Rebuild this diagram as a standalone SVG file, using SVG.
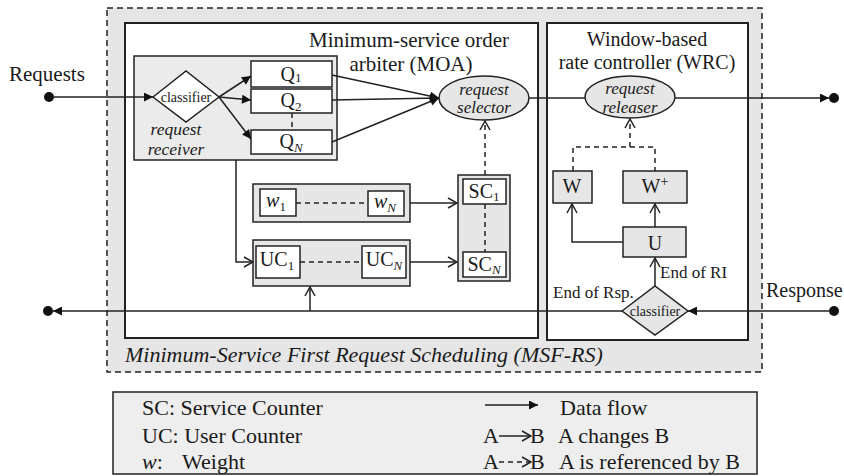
<svg xmlns="http://www.w3.org/2000/svg" width="844" height="476" viewBox="0 0 844 476">
<style>
  text { font-family: "Liberation Serif", "Times New Roman", serif; fill: #1a1a1a; }
  .f21 { font-size: 21px; }
  .f22 { font-size: 22px; }
  .f20 { font-size: 20px; }
  .f17 { font-size: 17px; }
  .f14 { font-size: 14px; }
  .it { font-style: italic; }
  .mid { text-anchor: middle; }
  .ln { stroke: #222; stroke-width: 1.5; fill: none; }
  .dash { stroke: #222; stroke-width: 1.5; fill: none; stroke-dasharray: 5,4; }
  .wbox { fill: #fff; stroke: #222; stroke-width: 1.5; }
  .gbox { fill: #e6e6e6; stroke: #222; stroke-width: 1.5; }
  .sub { font-size: 13px; }
</style>
<defs>
  <marker id="af" viewBox="0 0 10 10" refX="10" refY="5" markerWidth="10" markerHeight="9" orient="auto" markerUnits="userSpaceOnUse">
    <path d="M0,0 L10,5 L0,10 z" fill="#111"/>
  </marker>
  <marker id="ao" viewBox="0 0 12 12" refX="11" refY="6" markerWidth="12" markerHeight="12" orient="auto" markerUnits="userSpaceOnUse">
    <path d="M2,1 L11,6 L2,11" fill="none" stroke="#222" stroke-width="1.5"/>
  </marker>
</defs>

<!-- frames -->
<g id="msf-rs">
  <rect x="107" y="8" width="655" height="364" fill="#e6e6e6" stroke="#222" stroke-width="1.5" stroke-dasharray="6,4"/>
  <text x="125" y="362" class="f22 it">Minimum-Service First Request Scheduling (MSF-RS)</text>
</g>
<g id="moa">
  <rect x="125" y="23" width="413" height="315" fill="#fff" stroke="#222" stroke-width="2"/>
  <text x="409" y="47" class="f21 mid">Minimum-service order</text>
  <text x="411" y="71" class="f21 mid">arbiter (MOA)</text>
</g>
<g id="wrc">
  <rect x="547" y="23" width="201" height="317" fill="#fff" stroke="#222" stroke-width="2"/>
  <text x="647" y="46" class="f20 mid">Window-based</text>
  <text x="647" y="69" class="f20 mid">rate controller (WRC)</text>
</g>

<!-- external labels -->
<g id="requests">
  <circle cx="49" cy="97" r="5" fill="#111"/>
  <text x="9" y="81" class="f21">Requests</text>
</g>
<g id="response">
  <circle cx="834" cy="311" r="5" fill="#111"/>
  <text x="766" y="297" class="f20">Response</text>
</g>
<g id="out-right">
  <circle cx="834" cy="98" r="5" fill="#111"/>
</g>
<g id="out-left">
  <circle cx="48" cy="311" r="5" fill="#111"/>
</g>

<!-- request receiver -->
<g id="request-receiver">
  <rect x="134" y="56" width="203" height="104" fill="#ebebeb" stroke="#222" stroke-width="1.5"/>
  <text x="176" y="135" class="it mid" style="font-size:17.5px">request</text>
  <text x="176" y="155" class="it mid" style="font-size:17.5px">receiver</text>
</g>
<g id="classifier-in">
  <polygon points="153,97 186,71 219,97 186,122" fill="#fff" stroke="#222" stroke-width="1.5"/>
  <text x="186" y="102" class="f14 mid">classifier</text>
</g>
<g id="q1">
  <rect x="251" y="61" width="81" height="26" class="wbox"/>
  <text x="291" y="81" class="f20 mid">Q<tspan class="sub" dy="1">1</tspan></text>
</g>
<g id="q2">
  <rect x="251" y="89" width="81" height="24" class="wbox"/>
  <text x="291" y="107" class="f20 mid">Q<tspan class="sub" dy="4">2</tspan></text>
</g>
<g id="qn">
  <rect x="251" y="130" width="81" height="24" class="wbox"/>
  <text x="291" y="148" class="f20 mid">Q<tspan class="sub it" dy="4">N</tspan></text>
</g>

<!-- selector / releaser -->
<g id="request-selector">
  <ellipse cx="484" cy="98" rx="45" ry="22" class="gbox"/>
  <text x="484" y="95" class="f17 it mid">request</text>
  <text x="484" y="113" class="f17 it mid">selector</text>
</g>
<g id="request-releaser">
  <ellipse cx="630" cy="97" rx="45" ry="21" class="gbox"/>
  <text x="630" y="94" class="f17 it mid">request</text>
  <text x="630" y="113" class="f17 it mid">releaser</text>
</g>

<!-- weights -->
<g id="weights">
  <rect x="253" y="184" width="157" height="38" class="gbox"/>
  <rect x="260" y="189" width="36" height="27" class="wbox"/>
  <rect x="368" y="191" width="36" height="25" class="wbox"/>
  <text x="276" y="207" class="f20 it mid">w<tspan class="sub" style="font-style:normal" dy="4">1</tspan></text>
  <text x="385" y="208" class="f20 it mid">w<tspan class="sub" dy="4">N</tspan></text>
</g>
<g id="user-counters">
  <rect x="253" y="240" width="157" height="46" class="gbox"/>
  <rect x="256" y="246" width="44" height="32" class="wbox"/>
  <rect x="362" y="246" width="44" height="32" class="wbox"/>
  <text x="277" y="266" class="f20 mid">UC<tspan class="sub" dy="4">1</tspan></text>
  <text x="384" y="266" class="f20 mid">UC<tspan class="sub it" dy="4">N</tspan></text>
</g>
<g id="service-counters">
  <rect x="458" y="175" width="52" height="106" class="gbox"/>
  <rect x="463" y="179" width="43" height="25" class="wbox"/>
  <rect x="463" y="252" width="43" height="25" class="wbox"/>
  <text x="484" y="198" class="f20 mid">SC<tspan class="sub" dy="3">1</tspan></text>
  <text x="484" y="271" class="f20 mid">SC<tspan class="sub it" dy="3">N</tspan></text>
</g>

<!-- WRC internals -->
<g id="w">
  <rect x="553" y="171" width="39" height="32" class="gbox"/>
  <text x="572" y="193" class="f20 mid">W</text>
</g>
<g id="w-plus">
  <rect x="623" y="171" width="64" height="32" class="gbox"/>
  <text x="655" y="193" class="f20 mid">W<tspan style="font-size:14px" dy="-7">+</tspan></text>
</g>
<g id="u">
  <rect x="623" y="227" width="63" height="30" class="gbox"/>
  <text x="655" y="250" class="f20 mid">U</text>
</g>
<g id="classifier-out">
  <polygon points="622,311 655,286 688,311 655,335" class="gbox"/>
  <text x="655" y="316" class="f14 mid">classifier</text>
  <text x="660" y="278" class="f17">End of RI</text>
  <text x="553" y="298" class="f17">End of Rsp.</text>
</g>

<!-- connectors -->
<g id="connectors">
  <!-- data flow -->
  <line x1="54" y1="97" x2="153" y2="97" class="ln" marker-end="url(#af)"/>
  <line x1="219" y1="97" x2="251" y2="76" class="ln" marker-end="url(#af)"/>
  <line x1="219" y1="97" x2="251" y2="100" class="ln" marker-end="url(#af)"/>
  <line x1="219" y1="97" x2="251" y2="139" class="ln" marker-end="url(#af)"/>
  <line x1="332" y1="75" x2="439" y2="98" class="ln" marker-end="url(#af)"/>
  <line x1="332" y1="100" x2="439" y2="98" class="ln" marker-end="url(#af)"/>
  <line x1="332" y1="142" x2="439" y2="98" class="ln" marker-end="url(#af)"/>
  <line x1="529" y1="98" x2="585" y2="98" class="ln"/>
  <line x1="675" y1="98" x2="829" y2="98" class="ln" marker-end="url(#af)"/>
  <line x1="829" y1="311" x2="688" y2="311" class="ln" marker-end="url(#af)"/>
  <line x1="622" y1="311" x2="53" y2="311" class="ln" marker-end="url(#af)"/>
  <!-- dashed between queues / counters -->
  <line x1="292" y1="113" x2="292" y2="130" class="dash" stroke-dasharray="4,3"/>
  <line x1="296" y1="203" x2="368" y2="203" class="dash" stroke-dasharray="4,3"/>
  <line x1="300" y1="262" x2="362" y2="262" class="dash" stroke-dasharray="4,3"/>
  <line x1="485" y1="204" x2="485" y2="252" class="dash" stroke-dasharray="4,3"/>
  <!-- changes -->
  <path d="M236,160 V262 H253" class="ln" marker-end="url(#ao)"/>
  <line x1="410" y1="203" x2="457" y2="203" class="ln" marker-end="url(#ao)"/>
  <line x1="410" y1="262" x2="457" y2="262" class="ln" marker-end="url(#ao)"/>
  <line x1="310" y1="311" x2="310" y2="287" class="ln" marker-end="url(#ao)"/>
  <line x1="655" y1="286" x2="655" y2="258" class="ln" marker-end="url(#ao)"/>
  <line x1="655" y1="227" x2="655" y2="204" class="ln" marker-end="url(#ao)"/>
  <path d="M623,242 H572 V204" class="ln" marker-end="url(#ao)"/>
  <!-- references -->
  <line x1="485" y1="175" x2="485" y2="121" class="dash" marker-end="url(#ao)"/>
  <path d="M573,171 V147 H655 V171" class="dash"/>
  <line x1="630" y1="147" x2="630" y2="119" class="dash" marker-end="url(#ao)"/>
</g>

<!-- legend -->
<g id="legend">
  <rect x="113" y="392" width="644" height="82" fill="#eeeeee" stroke="#222" stroke-width="1.5"/>
  <text x="142" y="415" class="f22">SC: Service Counter</text>
  <text x="142" y="443" class="f22">UC: User Counter</text>
  <text x="142" y="469" class="f22"><tspan class="it">w</tspan>:</text>
  <text x="182" y="469" class="f22">Weight</text>
  <line x1="485" y1="405" x2="538" y2="405" class="ln" marker-end="url(#af)"/>
  <text x="560" y="415" class="f22">Data flow</text>
  <text x="483" y="443" class="f22">A</text>
  <line x1="499" y1="436" x2="531" y2="436" class="ln" marker-end="url(#ao)"/>
  <text x="530" y="443" class="f22">B</text>
  <text x="558" y="443" class="f22">A changes B</text>
  <text x="483" y="469" class="f22">A</text>
  <line x1="499" y1="462" x2="531" y2="462" class="dash" stroke-dasharray="3,3" marker-end="url(#ao)"/>
  <text x="530" y="469" class="f22">B</text>
  <text x="559" y="469" class="f22">A is referenced by B</text>
</g>
</svg>
